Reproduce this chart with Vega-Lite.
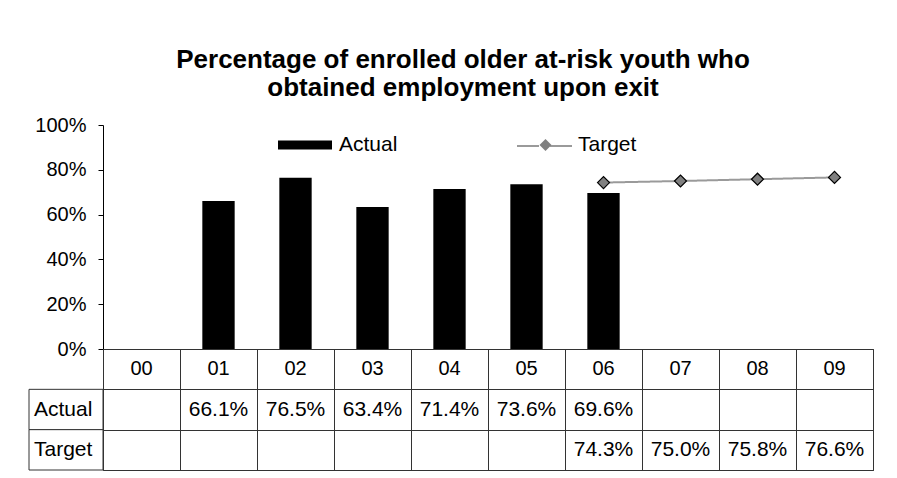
{
  "$schema": "https://vega.github.io/schema/vega-lite/v6.json",
  "padding": {"left": 28, "top": 47, "right": 5, "bottom": 5},
  "background": "white",
  "config": {"font": "Liberation Sans", "view": {"stroke": null}},
  "title": {
    "text": ["Percentage of enrolled older at-risk youth who", "obtained employment upon exit"],
    "font": "Liberation Sans", "fontSize": 26, "fontWeight": "bold", "color": "black",
    "anchor": "middle", "lineHeight": 28, "offset": 14, "dx": 12
  },
  "datasets": {
    "main": [
      {"year": "00", "Actual": null, "Target": null},
      {"year": "01", "Actual": 0.661, "Target": null},
      {"year": "02", "Actual": 0.765, "Target": null},
      {"year": "03", "Actual": 0.634, "Target": null},
      {"year": "04", "Actual": 0.714, "Target": null},
      {"year": "05", "Actual": 0.736, "Target": null},
      {"year": "06", "Actual": 0.696, "Target": 0.743},
      {"year": "07", "Actual": null, "Target": 0.75},
      {"year": "08", "Actual": null, "Target": 0.758},
      {"year": "09", "Actual": null, "Target": 0.766}
    ]
  },
  "spacing": 0,
  "bounds": "flush",
  "vconcat": [
    {
      "width": 844,
      "height": 224,
      "data": {"name": "main"},
      "encoding": {
        "x": {"field": "year", "type": "nominal", "sort": null,
          "scale": {"domain": ["00","01","02","03","04","05","06","07","08","09"], "range": [74, 844], "paddingInner": 0, "paddingOuter": 0},
          "axis": null}
      },
      "layer": [
        {
          "mark": {"type": "bar", "width": {"band": 0.42}},
          "encoding": {
            "y": {"field": "Actual", "type": "quantitative",
              "scale": {"domain": [0, 1], "nice": false},
              "axis": {"title": null, "format": "%", "values": [0, 0.2, 0.4, 0.6, 0.8, 1], "grid": false, "offset": -74,
                "tickSize": 5, "tickColor": "black", "domainColor": "black", "labelFontSize": 20,
                "labelFont": "Liberation Sans", "labelColor": "black", "labelPadding": 12}},
            "color": {"datum": "Actual", "scale": {"range": ["black"]},
              "legend": {"orient": "none", "legendX": 249, "legendY": -7, "title": null, "padding": 0,
                "symbolType": "M-1,-0.17H1V0.17H-1Z", "symbolSize": 2916, "symbolStrokeWidth": 0,
                "labelFontSize": 21, "labelFont": "Liberation Sans", "labelColor": "black", "labelOffset": 7}}
          }
        },
        {
          "mark": {"type": "line", "color": "#9a9a9a", "strokeWidth": 2},
          "encoding": {
            "y": {"field": "Target", "type": "quantitative"},
            "strokeDash": {"datum": "Target line", "scale": {"range": [[1, 0]]},
              "legend": {"orient": "none", "legendX": 487, "legendY": -7.5, "title": null, "padding": 0,
                "symbolType": "M-1,0H-0.2M0.2,0H1", "symbolSize": 3025, "symbolStrokeColor": "#9a9a9a",
                "symbolStrokeWidth": 2, "labelExpr": "''", "labelFontSize": 21}}
          }
        },
        {
          "mark": {"type": "point", "filled": true, "fill": "#808080", "stroke": "black", "strokeWidth": 1.2, "size": 144, "opacity": 1},
          "encoding": {
            "y": {"field": "Target", "type": "quantitative"},
            "shape": {"datum": "Target", "scale": {"range": ["diamond"]},
              "legend": {"orient": "none", "legendX": 506, "legendY": 9.5, "title": null, "padding": 0,
                "symbolSize": 144, "symbolFillColor": "#808080", "symbolStrokeColor": "black", "symbolStrokeWidth": 1.2,
                "labelFontSize": 21, "labelFont": "Liberation Sans", "labelColor": "black", "labelOffset": 22}}
          }
        }
      ]
    },
    {
      "spacing": 0,
      "bounds": "flush",
      "hconcat": [
        {
          "width": 74,
          "height": 121,
          "data": {"values": [{"row": "Actual"}, {"row": "Target"}]},
          "encoding": {
            "y": {"field": "row", "type": "nominal", "sort": null,
              "scale": {"domain": ["hdr", "Actual", "Target"], "paddingInner": 0, "paddingOuter": 0},
              "axis": null}
          },
          "layer": [
            {"mark": {"type": "rect", "fill": "white", "stroke": "#333", "strokeWidth": 1}},
            {"mark": {"type": "text", "align": "left", "dx": -32, "fontSize": 21, "color": "black"},
             "encoding": {"text": {"field": "row"}}}
          ]
        },
        {
          "width": 770,
          "height": 121,
          "view": {"stroke": "#333", "strokeWidth": 1},
          "data": {"name": "main"},
          "encoding": {
            "x": {"field": "year", "type": "nominal", "sort": null,
              "scale": {"domain": ["00","01","02","03","04","05","06","07","08","09"], "paddingInner": 0, "paddingOuter": 0},
              "axis": {"orient": "top", "grid": true, "tickBand": "extent", "labels": false, "ticks": false, "domain": false,
                "gridColor": "#333", "gridOpacity": 1, "title": null}}
          },
          "layer": [
            {
              "mark": {"type": "text", "fontSize": 20, "color": "black"},
              "encoding": {
                "y": {"datum": "hdr", "type": "nominal",
                  "scale": {"domain": ["hdr", "Actual", "Target"], "paddingInner": 0, "paddingOuter": 0},
                  "axis": {"grid": true, "tickBand": "extent", "labels": false, "ticks": false, "domain": false,
                    "gridColor": "#333", "gridOpacity": 1, "title": null}},
                "text": {"field": "year"}
              }
            },
            {
              "transform": [{"fold": ["Actual", "Target"], "as": ["row", "val"]}, {"filter": "datum.val != null"}],
              "mark": {"type": "text", "fontSize": 21, "color": "black"},
              "encoding": {
                "y": {"field": "row", "type": "nominal"},
                "text": {"field": "val", "type": "quantitative", "format": ".1%"}
              }
            }
          ]
        }
      ]
    }
  ]
}
